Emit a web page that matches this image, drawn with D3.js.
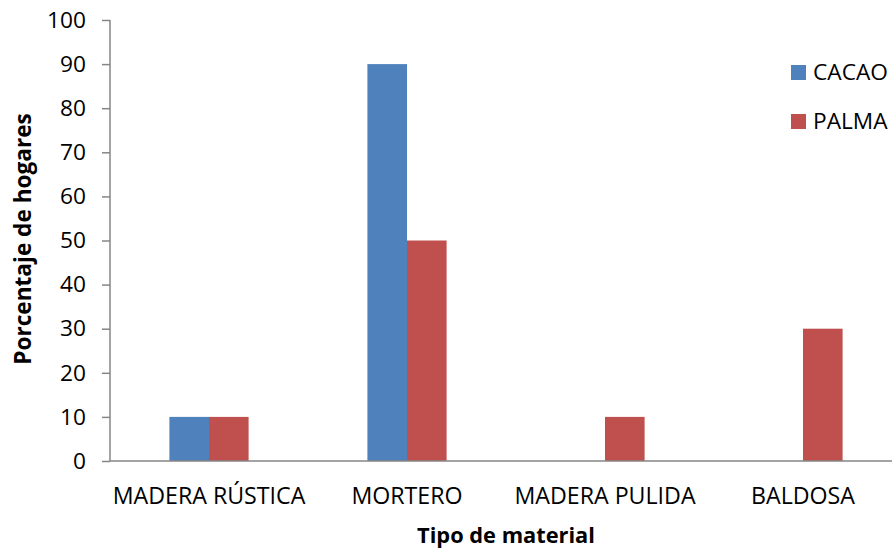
<!DOCTYPE html>
<html><head><meta charset="utf-8">
<script src="https://cdn.jsdelivr.net/npm/d3@7"></script>
<style>body{margin:0;background:#fff}svg{display:block}text{font-family:"Open Sans",sans-serif;fill:#000}</style>
</head><body>
<svg id="c" width="892" height="548"></svg>
<script>
const categories = ["MADERA RÚSTICA", "MORTERO", "MADERA PULIDA", "BALDOSA"];
const seriesNames = ["CACAO", "PALMA"];
const cacao = [10, 90, 0, 0];
const palma = [10, 50, 10, 30];
const yTicks = [0,10,20,30,40,50,60,70,80,90,100];
const colors = ["#4F81BD", "#C0504D"];
const FONT = '"Open Sans",sans-serif';

const svg = d3.select("#c");
const x0 = d3.scaleBand().domain(categories).range([110, 902]).paddingInner(0).paddingOuter(0);
const x1 = d3.scaleBand().domain(seriesNames).range([0, x0.bandwidth()]).paddingInner(0).paddingOuter(1.5);
const y = d3.scaleLinear().domain([0, 100]).range([461, 20]);

const data = categories.map((c, i) => ({cat: c, vals: [cacao[i], palma[i]]}));

const g = svg.append("g");
data.forEach(d => {
  d.vals.forEach((v, j) => {
    if (v <= 0) return;
    g.append("rect")
      .attr("x", x0(d.cat) + x1(seriesNames[j]))
      .attr("width", x1.bandwidth())
      .attr("y", y(v))
      .attr("height", y(0) - y(v))
      .attr("fill", colors[j]);
  });
});

// y axis
const yAxis = d3.axisLeft(y).tickValues(yTicks).tickSize(8).tickPadding(16);
const ya = svg.append("g").attr("transform", "translate(110,0)").call(yAxis);
ya.select(".domain").attr("stroke", "#868686").attr("stroke-width", 1.5).attr("d", "M0,20V461");
ya.selectAll(".tick line").attr("stroke", "#868686").attr("stroke-width", 1.5);
ya.selectAll(".tick text").style("font-size", "22.7px").style("font-family", FONT).attr("fill", "#000");

// x axis
const xAxis = d3.axisBottom(x0).tickSize(0).tickPadding(27);
const xa = svg.append("g").attr("transform", "translate(0,461)").call(xAxis);
xa.select(".domain").attr("stroke", "#868686").attr("stroke-width", 1.5).attr("d", "M110,0H892");
xa.selectAll(".tick text").style("font-size", "23.2px").style("font-family", FONT).attr("fill", "#000");

// titles
svg.append("text").attr("x", 506).attr("y", 543).attr("text-anchor", "middle")
  .style("font-size", "21.8px").style("font-weight", "bold").text("Tipo de material");
svg.append("text").attr("transform", "translate(31,239) rotate(-90)").attr("text-anchor", "middle")
  .style("font-size", "22.6px").style("font-weight", "bold").text("Porcentaje de hogares");

// legend
seriesNames.forEach((s, j) => {
  const ly = 65 + j * 49;
  svg.append("rect").attr("x", 791).attr("y", ly).attr("width", 15).attr("height", 15).attr("fill", colors[j]);
  svg.append("text").attr("x", 813).attr("y", ly + 14.5).style("font-size", "22.7px").text(s);
});
</script>
</body></html>
